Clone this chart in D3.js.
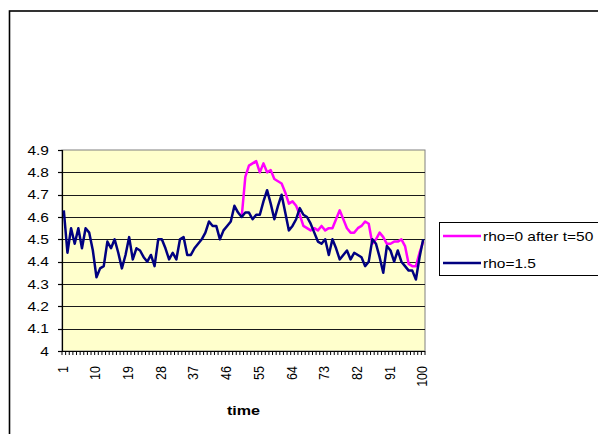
<!DOCTYPE html>
<html>
<head>
<meta charset="utf-8">
<script src="https://cdn.jsdelivr.net/npm/d3@7"></script>
<style>
  html, body { margin: 0; padding: 0; background: #fff; }
  svg { display: block; }
  text { font-family: "Liberation Sans", Arial, sans-serif; fill: #000; }
</style>
</head>
<body>
<svg id="chart" width="598" height="434"></svg>
<script>
// Time index 1..100
const times = d3.range(1, 101);

// rho = 1.5 path (whole sample)
const rhoHigh = [
  4.63, 4.44, 4.55, 4.48, 4.55, 4.46, 4.55, 4.53, 4.45, 4.33,
  4.37, 4.38, 4.49, 4.46, 4.50, 4.44, 4.37, 4.43, 4.51, 4.41,
  4.46, 4.45, 4.42, 4.40, 4.43, 4.38, 4.50, 4.50, 4.46, 4.41,
  4.44, 4.41, 4.50, 4.51, 4.43, 4.43, 4.46, 4.48, 4.50, 4.53,
  4.58, 4.56, 4.56, 4.50, 4.54, 4.56, 4.58, 4.65, 4.62, 4.60,
  4.62, 4.62, 4.59, 4.61, 4.61, 4.67, 4.72, 4.66, 4.59, 4.65,
  4.70, 4.62, 4.54, 4.56, 4.59, 4.64, 4.61, 4.60, 4.57, 4.53,
  4.49, 4.48, 4.50, 4.43, 4.50, 4.46, 4.41, 4.43, 4.45, 4.41,
  4.44, 4.43, 4.42, 4.38, 4.40, 4.50, 4.48, 4.42, 4.35, 4.47,
  4.45, 4.40, 4.45, 4.40, 4.38, 4.36, 4.36, 4.32, 4.42, 4.50
];

// rho = 0 after t = 50 (identical path before the switch, so only t >= 50 is listed)
const switchTime = 50;
const rhoZeroAfter = [
  4.60, 4.78, 4.83, 4.84, 4.85, 4.80, 4.84, 4.80, 4.81, 4.77,
  4.76, 4.75, 4.71, 4.66, 4.67, 4.65, 4.61, 4.56, 4.55, 4.54,
  4.55, 4.54, 4.56, 4.54, 4.55, 4.55, 4.59, 4.63, 4.59, 4.55,
  4.53, 4.53, 4.55, 4.56, 4.58, 4.57, 4.48, 4.50, 4.53, 4.51,
  4.48, 4.48, 4.49, 4.49, 4.50, 4.47, 4.39, 4.38, 4.38, 4.44,
  4.49
];

const yTicks = [4, 4.1, 4.2, 4.3, 4.4, 4.5, 4.6, 4.7, 4.8, 4.9];
const xTickLabels = [1, 10, 19, 28, 37, 46, 55, 64, 73, 82, 91, 100];

const seriesNames = ["rho=0 after t=50", "rho=1.5"];
const seriesColors = ["#FF00FF", "#000080"];
const axisTitle = "time";

const SX = 1.24; // horizontal stretch applied to all text

const svg = d3.select("#chart");

// outer chart frame
svg.append("rect")
  .attr("x", 9.5).attr("y", 11)
  .attr("width", 700).attr("height", 600)
  .attr("fill", "#fff").attr("stroke", "#000").attr("stroke-width", 1.6);

const plot = { left: 62, right: 425, top: 150, bottom: 351 };

const x = d3.scaleBand().domain(times).range([plot.left, plot.right]).padding(0);
const y = d3.scaleLinear().domain([4, 4.9]).range([plot.bottom, plot.top]);
const cx = t => x(t) + x.bandwidth() / 2;

// plot background
svg.append("rect")
  .attr("x", plot.left).attr("y", plot.top)
  .attr("width", plot.right - plot.left).attr("height", plot.bottom - plot.top)
  .attr("fill", "#FFFFCC").attr("stroke", "#808080").attr("stroke-width", 1);

// horizontal gridlines
svg.append("g").selectAll("line")
  .data(yTicks.filter(v => v > 4 && v < 4.9))
  .join("line")
  .attr("x1", plot.left).attr("x2", plot.right)
  .attr("y1", d => Math.round(y(d)) + 0.5).attr("y2", d => Math.round(y(d)) + 0.5)
  .attr("stroke", "#1a1a1a").attr("stroke-width", 1.2);

// y axis line, ticks and labels
svg.append("line")
  .attr("x1", plot.left + 0.5).attr("x2", plot.left + 0.5)
  .attr("y1", plot.top).attr("y2", plot.bottom)
  .attr("stroke", "#000").attr("stroke-width", 1.2);

const yAxisG = svg.append("g");
yAxisG.selectAll("line")
  .data(yTicks).join("line")
  .attr("x1", plot.left - 4).attr("x2", plot.left)
  .attr("y1", d => Math.round(y(d)) + 0.5).attr("y2", d => Math.round(y(d)) + 0.5)
  .attr("stroke", "#000").attr("stroke-width", 1.2);
yAxisG.selectAll("text")
  .data(yTicks).join("text")
  .attr("transform", d => `translate(49,${y(d)}) scale(${SX},1)`)
  .attr("text-anchor", "end")
  .attr("dy", "0.36em")
  .style("font-size", "12.5px")
  .text(d => String(+d.toFixed(1)));

// x axis line and category ticks
svg.append("line")
  .attr("x1", plot.left).attr("x2", plot.right)
  .attr("y1", plot.bottom + 0.5).attr("y2", plot.bottom + 0.5)
  .attr("stroke", "#000").attr("stroke-width", 1.2);

const boundaries = times.map(t => x(t)).concat([x(times[times.length - 1]) + x.bandwidth()]);
svg.append("g").selectAll("line")
  .data(boundaries).join("line")
  .attr("x1", d => d).attr("x2", d => d)
  .attr("y1", plot.bottom).attr("y2", plot.bottom + 4)
  .attr("stroke", "#000").attr("stroke-width", 1);

svg.append("g").selectAll("text")
  .data(xTickLabels).join("text")
  .attr("transform", d => `translate(${cx(d) + 4},366) scale(${SX},1) rotate(-90)`)
  .attr("text-anchor", "end")
  .style("font-size", "12.5px")
  .text(d => d);

// axis title
svg.append("text")
  .attr("transform", `translate(${(plot.left + plot.right) / 2},415) scale(${SX},1)`)
  .attr("text-anchor", "middle")
  .style("font-size", "13px").style("font-weight", "bold")
  .text(axisTitle);

// series lines
const line = d3.line().x(d => cx(d.t)).y(d => y(d.v));

const zeroData = rhoZeroAfter.map((v, i) => ({ t: switchTime + i, v }));
const highData = rhoHigh.map((v, i) => ({ t: times[i], v }));

svg.append("path").datum(zeroData)
  .attr("d", line).attr("fill", "none")
  .attr("stroke", seriesColors[0]).attr("stroke-width", 2.5)
  .attr("stroke-linejoin", "round");
svg.append("path").datum(highData)
  .attr("d", line).attr("fill", "none")
  .attr("stroke", seriesColors[1]).attr("stroke-width", 2.5)
  .attr("stroke-linejoin", "round");

// legend
const legend = svg.append("g");
legend.append("rect")
  .attr("x", 439.5).attr("y", 222.5).attr("width", 200).attr("height", 53)
  .attr("fill", "#fff").attr("stroke", "#000").attr("stroke-width", 1);
seriesNames.forEach((name, i) => {
  const ly = 236 + i * 27;
  legend.append("line")
    .attr("x1", 443).attr("x2", 481).attr("y1", ly).attr("y2", ly)
    .attr("stroke", seriesColors[i]).attr("stroke-width", 2.5);
  legend.append("text")
    .attr("transform", `translate(483,${ly}) scale(${SX},1)`)
    .attr("dy", "0.36em")
    .style("font-size", "12.5px")
    .text(name);
});
</script>
</body>
</html>
